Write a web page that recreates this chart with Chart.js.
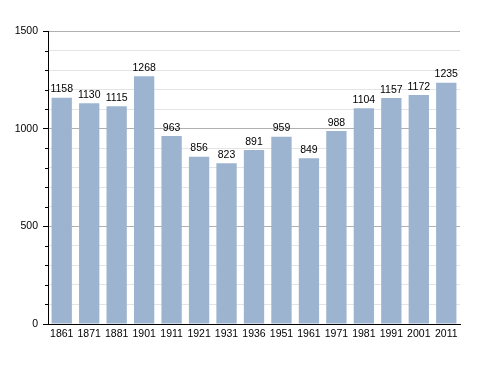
<!DOCTYPE html>
<html>
<head>
<meta charset="utf-8">
<script src="https://cdn.jsdelivr.net/npm/chart.js@4"></script>
<style>
  html, body { margin: 0; padding: 0; background: #fff; }
  #wrap { width: 488px; height: 373px; }
</style>
</head>
<body>
<div id="wrap"><canvas id="popChart" width="488" height="373"></canvas></div>
<script>
const years = ['1861', '1871', '1881', '1901', '1911', '1921', '1931', '1936', '1951', '1961', '1971', '1981', '1991', '2001', '2011'];
const population = [1158, 1130, 1115, 1268, 963, 856, 823, 891, 959, 849, 988, 1104, 1157, 1172, 1235];
const yMax = 1500;
const yStep = 100;
const yLabelEvery = 500;

const FONT = "'Liberation Sans', Arial, sans-serif";
const FONT_SIZE = 10.5;

const isMajor = (v) => v % yLabelEvery === 0;

// value labels above each bar
const valueLabels = {
  id: 'valueLabels',
  afterDatasetsDraw(chart) {
    const { ctx } = chart;
    const meta = chart.getDatasetMeta(0);
    ctx.save();
    ctx.font = FONT_SIZE + 'px ' + FONT;
    ctx.fillStyle = '#000';
    ctx.textAlign = 'center';
    ctx.textBaseline = 'bottom';
    meta.data.forEach((bar, i) => {
      ctx.fillText(String(population[i]), bar.x, bar.y - 3);
    });
    ctx.restore();
  },
};

// short minor ticks on the y axis (majors come from the grid)
const minorTicks = {
  id: 'minorTicks',
  afterDraw(chart) {
    const { ctx } = chart;
    const y = chart.scales.y;
    ctx.save();
    ctx.strokeStyle = '#000';
    ctx.lineWidth = 1;
    y.ticks.forEach((t) => {
      if (isMajor(t.value)) return;
      const py = Math.round(y.getPixelForValue(t.value)) + 0.5;
      ctx.beginPath();
      ctx.moveTo(y.right - 3, py);
      ctx.lineTo(y.right, py);
      ctx.stroke();
    });
    ctx.restore();
  },
};

const ctx = document.getElementById('popChart').getContext('2d');

new Chart(ctx, {
  type: 'bar',
  data: {
    labels: years,
    datasets: [
      {
        data: population,
        backgroundColor: '#9db4d0',
        borderWidth: 0,
        barPercentage: 0.74,
        categoryPercentage: 1,
      },
    ],
  },
  options: {
    responsive: false,
    animation: false,
    layout: { padding: { top: 31, right: 28, bottom: 0, left: 0 } },
    plugins: {
      legend: { display: false },
      tooltip: { enabled: false },
    },
    scales: {
      x: {
        grid: { display: false, drawTicks: false },
        border: { color: '#000', width: 1 },
        ticks: { color: '#000', font: { size: FONT_SIZE, family: FONT }, padding: 4, maxRotation: 0, autoSkip: false },
        afterFit: (s) => { s.height = 49; },
      },
      y: {
        min: 0,
        max: yMax,
        border: { color: '#000', width: 1 },
        grid: {
          color: (c) => (isMajor(c.tick.value) ? '#b0b0b0' : '#e4e4e4'),
          tickColor: (c) => (isMajor(c.tick.value) ? '#000' : 'rgba(0,0,0,0)'),
          tickLength: 5,
        },
        ticks: {
          stepSize: yStep,
          color: '#000',
          font: { size: FONT_SIZE, family: FONT },
          padding: 5,
          callback: (v) => (isMajor(v) ? v : ''),
        },
        afterFit: (s) => { s.width = 48; },
      },
    },
  },
  plugins: [valueLabels, minorTicks],
});
</script>
</body>
</html>
